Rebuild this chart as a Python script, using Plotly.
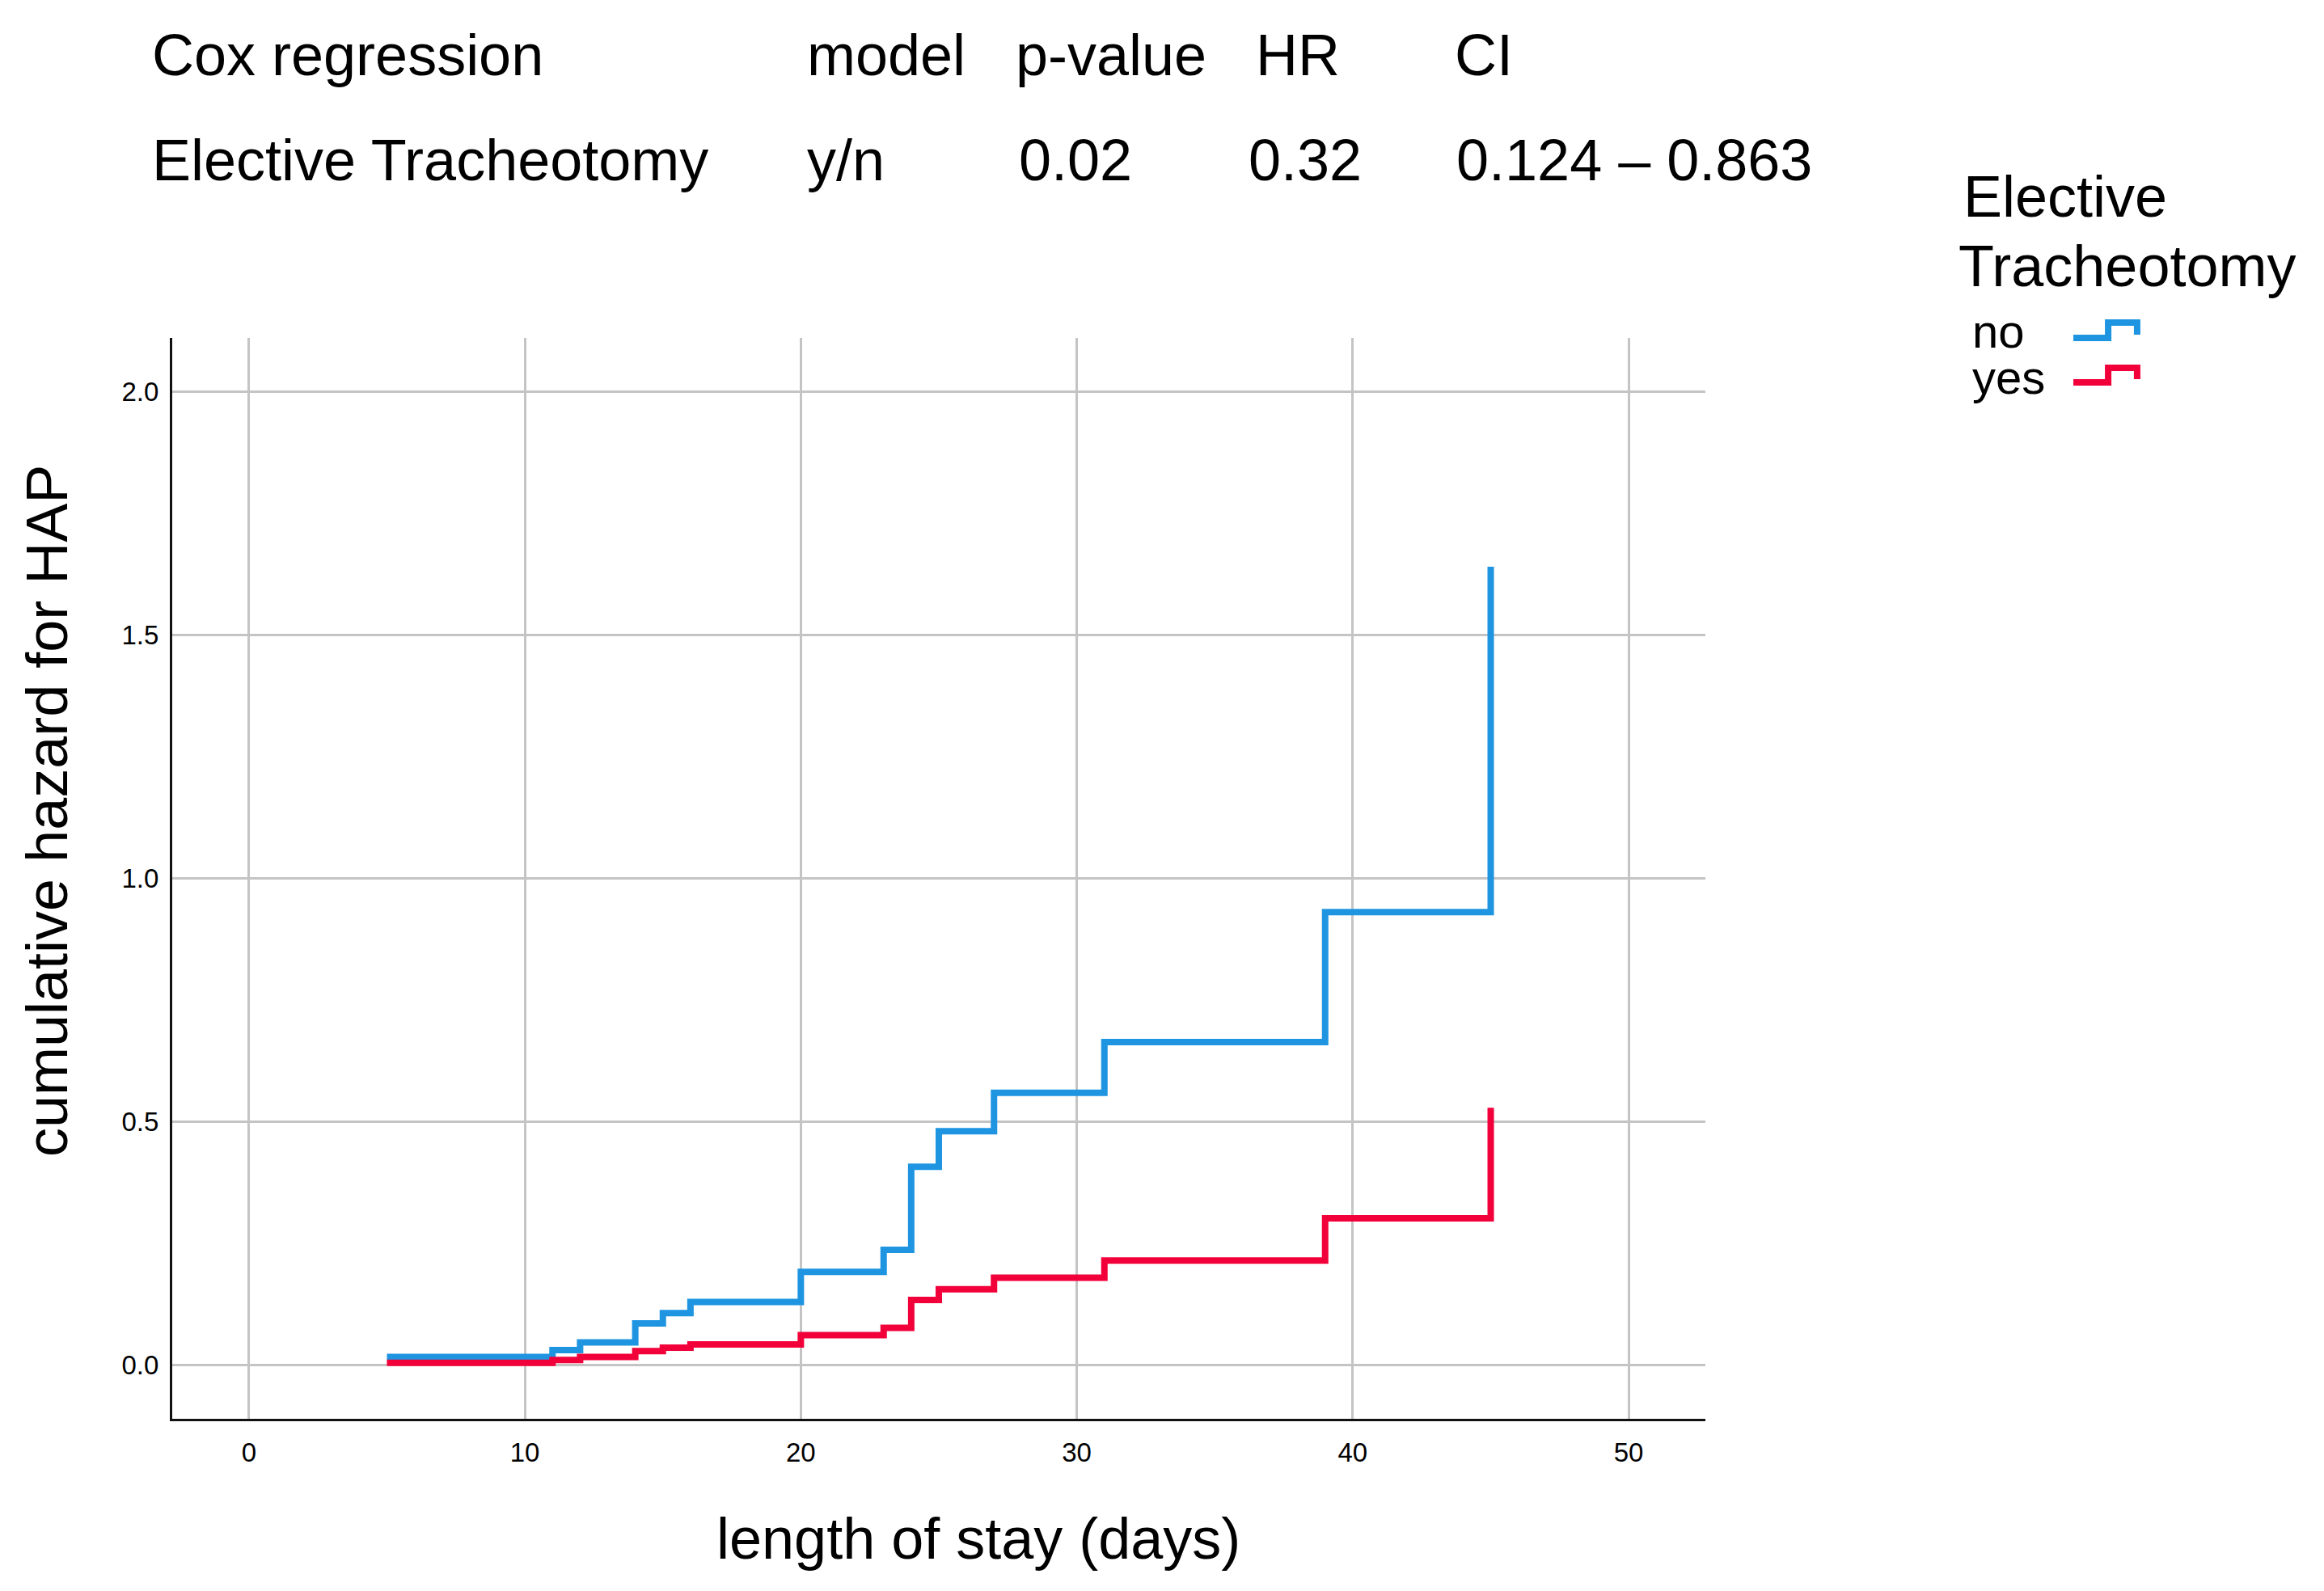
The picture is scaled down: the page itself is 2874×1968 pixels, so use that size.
import plotly.graph_objects as go

# ---- data ----
days = [5, 11, 12, 14, 15, 16, 20, 23, 24, 25, 27, 31, 39, 45]
hazard_no = [0.016, 0.030, 0.046, 0.085, 0.106, 0.129, 0.191, 0.236, 0.407, 0.480, 0.559, 0.663, 0.930, 1.640]
hazard_yes = [0.004, 0.010, 0.016, 0.028, 0.035, 0.042, 0.061, 0.076, 0.133, 0.155, 0.179, 0.214, 0.301, 0.528]

group_labels = ["no", "yes"]
group_colors = ["#1F95E2", "#F2003A"]

x_ticks = [0, 10, 20, 30, 40, 50]
y_ticks = [0.0, 0.5, 1.0, 1.5, 2.0]
y_tick_text = ["0.0", "0.5", "1.0", "1.5", "2.0"]

table_header = ["Cox regression", "model", "p-value", "HR", "CI"]
table_row = ["Elective Tracheotomy", "y/n", "0.02", "0.32", "0.124 \u2013 0.863"]

W, H = 2874, 1968
L, R, T, B = 213, 2109, 418, 1755
FONT = "Liberation Sans, Arial, sans-serif"

fig = go.Figure()
for vals, name, col in zip([hazard_no, hazard_yes], group_labels, group_colors):
    fig.add_trace(go.Scatter(x=days, y=vals, mode="lines", name=name,
                             line=dict(color=col, width=8, shape="hv"),
                             showlegend=False))

def px(x):
    return (x - L) / (R - L)

def py(y):
    return (B - y) / (B - T)

annotations = []
# header table
hx1 = [189, 999, 1257, 1554, 1800]
hx2 = [189, 999, 1261, 1545, 1802]
for txt, x in zip(table_header, hx1):
    annotations.append(dict(text=txt, x=px(x - 3), y=py(68), xref="paper", yref="paper",
                            xanchor="left", yanchor="middle", showarrow=False,
                            font=dict(family=FONT, size=72, color="black")))
for txt, x in zip(table_row, hx2):
    annotations.append(dict(text=txt, x=px(x - 3), y=py(198), xref="paper", yref="paper",
                            xanchor="left", yanchor="middle", showarrow=False,
                            font=dict(family=FONT, size=72, color="black")))
# legend title
annotations.append(dict(text="Elective", x=px(2426), y=py(243), xref="paper", yref="paper",
                        xanchor="left", yanchor="middle", showarrow=False,
                        font=dict(family=FONT, size=72, color="black")))
annotations.append(dict(text="Tracheotomy", x=px(2420), y=py(329), xref="paper", yref="paper",
                        xanchor="left", yanchor="middle", showarrow=False,
                        font=dict(family=FONT, size=72, color="black")))
# legend items
leg_y = [409, 466]
for name, yy in zip(group_labels, leg_y):
    annotations.append(dict(text=name, x=px(2437), y=py(yy), xref="paper", yref="paper",
                            xanchor="left", yanchor="middle", showarrow=False,
                            font=dict(family=FONT, size=58, color="black")))
# axis titles
annotations.append(dict(text="length of stay (days)", x=px(1210), y=py(1903), xref="paper", yref="paper",
                        xanchor="center", yanchor="middle", showarrow=False,
                        font=dict(family=FONT, size=72, color="black")))
annotations.append(dict(text="cumulative hazard for HAP", x=px(58), y=py(1003), xref="paper", yref="paper",
                        xanchor="center", yanchor="middle", showarrow=False, textangle=-90,
                        font=dict(family=FONT, size=72, color="black")))

shapes = []
glyphs = [(418, 399), (473, 455)]
for (ylow, yhigh), col in zip(glyphs, group_colors):
    path = "M {:.4f},{:.4f} L {:.4f},{:.4f} L {:.4f},{:.4f} L {:.4f},{:.4f} L {:.4f},{:.4f}".format(
        px(2564), py(ylow), px(2607), py(ylow), px(2607), py(yhigh),
        px(2643), py(yhigh), px(2643), py(ylow - 4))
    shapes.append(dict(type="path", path=path, xref="paper", yref="paper",
                       line=dict(color=col, width=8)))

fig.update_layout(
    width=W, height=H,
    margin=dict(l=L, r=W - R, t=T, b=H - B, pad=0),
    paper_bgcolor="white", plot_bgcolor="white",
    font=dict(family=FONT, color="black"),
    annotations=annotations, shapes=shapes,
    showlegend=False,
)
fig.update_xaxes(range=[-2.78, 52.78], tickvals=x_ticks, showgrid=True, gridcolor="#C4C4C4",
                 gridwidth=3, zeroline=False, showline=True, linecolor="#111111", linewidth=3,
                 ticks="", ticklabelstandoff=10, tickfont=dict(family=FONT, size=33, color="black"))
fig.update_yaxes(range=[-0.111, 2.110], tickvals=y_ticks, ticktext=y_tick_text, showgrid=True,
                 gridcolor="#C4C4C4", gridwidth=3, zeroline=False, showline=True,
                 linecolor="#111111", linewidth=3, ticks="", ticklabelstandoff=7,
                 tickfont=dict(family=FONT, size=33, color="black"))

fig.write_html("out.html", config={"displayModeBar": False},
               post_script="document.body.style.margin='0';document.body.style.overflow='hidden';")
